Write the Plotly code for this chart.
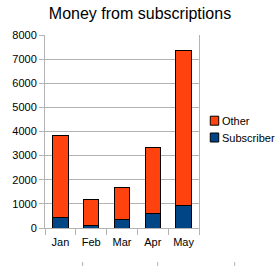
import plotly.graph_objects as go

months = ["Jan", "Feb", "Mar", "Apr", "May"]
subscriber = [440, 110, 350, 600, 940]
other = [3410, 1090, 1320, 2730, 6400]
y_ticks = [0, 1000, 2000, 3000, 4000, 5000, 6000, 7000, 8000]
series_names = ["Other", "Subscriber"]
series_colors = ["#ff420e", "#004586"]

FONT = "Liberation Sans, Arial, sans-serif"
GRID = "#b3b3b3"

# plot area in pixels
L, R, T, B = 35, 199, 35, 228
def px(x):
    return (x - L) / (R - L)
def py(y):
    return (B - y) / (B - T)

fig = go.Figure()
fig.add_trace(go.Bar(x=months, y=subscriber, name=series_names[1],
                     marker=dict(color=series_colors[1], line=dict(color="black", width=1)),
                     width=0.5))
fig.add_trace(go.Bar(x=months, y=other, name=series_names[0],
                     marker=dict(color=series_colors[0], line=dict(color="black", width=1)),
                     width=0.5))

fig.update_layout(
    width=280, height=266,
    barmode="stack",
    margin=dict(l=L, r=280 - R, t=T, b=266 - B),
    paper_bgcolor="white", plot_bgcolor="white",
    font=dict(family=FONT, size=11, color="black"),
    title=dict(text="Money from subscriptions", x=0.5, xanchor="center",
               y=0.972, yanchor="top", font=dict(size=16, color="black")),
    showlegend=False,
    xaxis=dict(range=[-0.5, 4.5], showgrid=False, ticks="outside", ticklen=6,
               tickson="boundaries", tickcolor=GRID, showline=True, linecolor=GRID,
               linewidth=1, zeroline=False, tickangle=0, ticklabelstandoff=4,
               tickfont=dict(size=11)),
    yaxis=dict(range=[0, 8000], tickvals=y_ticks, showgrid=True, gridcolor=GRID,
               gridwidth=1, ticks="outside", ticklen=5, tickcolor=GRID,
               showline=True, mirror=True, linecolor=GRID, linewidth=1,
               zeroline=False, tickfont=dict(size=11)),
)

# custom legend
for i, (name, col) in enumerate(zip(series_names, series_colors)):
    cy = 120.7 + i * 16.8
    fig.add_shape(type="rect", xref="paper", yref="paper",
                  x0=px(211), x1=px(220), y0=py(cy + 4.5), y1=py(cy - 4.5),
                  fillcolor=col, line=dict(color="black", width=1))
    fig.add_annotation(xref="paper", yref="paper", x=px(221.5), y=py(cy),
                       xanchor="left", yanchor="middle", text=name, showarrow=False,
                       font=dict(size=11, color="black"))

# small marks at bottom edge
for xp in [75, 155, 237]:
    fig.add_shape(type="line", xref="paper", yref="paper",
                  x0=px(xp), x1=px(xp), y0=py(262), y1=py(266),
                  line=dict(color=GRID, width=1))

fig.write_html("out.html")
